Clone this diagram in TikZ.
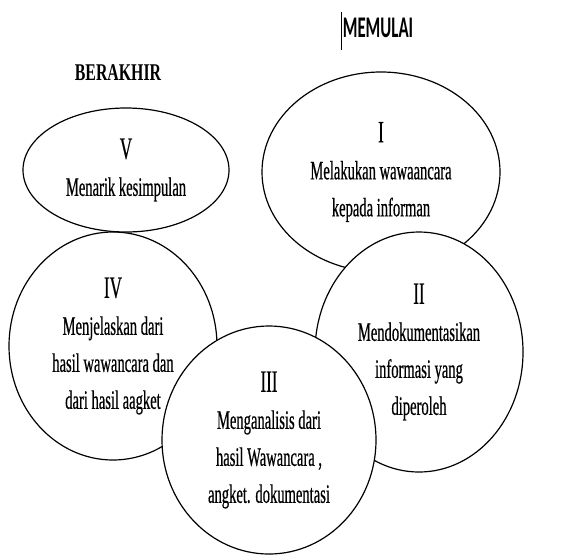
\documentclass[tikz,border=0pt]{standalone}
\usepackage{fontspec}
\setmainfont{Liberation Serif}
\newfontfamily\sempit{Liberation Serif}[FakeStretch=0.55,FakeBold=0.5]
\newfontfamily\judulfont{Liberation Serif}[FakeStretch=0.66]
\newfontfamily\memulaifont{Carlito}[FakeStretch=0.56]
\newcommand{\angka}[1]{{\fontsize{31}{37}\selectfont #1}}
\usetikzlibrary{shapes.geometric}
\begin{document}
\begin{tikzpicture}[x=1pt,y=-1pt,
    tahap/.style={ellipse, draw, fill=white, line width=1.2pt, inner sep=0pt,
        align=center, font={\sempit\fontsize{26.5}{37}\selectfont}}]
    \useasboundingbox (0,0) rectangle (577,555);
    % judul
    \node[font={\judulfont\bfseries\fontsize{24}{26}\selectfont}] (berakhir) at (118,73) {BERAKHIR};
    \node[font={\memulaifont\bfseries\fontsize{30}{34}\selectfont}] (memulai) at (378,28) {MEMULAI};
    \coordinate (kursor) at (341,12);
    \draw[line width=0.6pt] (kursor) -- ++(0,38);
    % tahap I sampai V
    \node[tahap, minimum width=238pt, minimum height=200pt] (satu) at (381,172)
        {\angka{I}\\Melakukan wawaancara\\kepada informan};
    \node[tahap, minimum width=208pt, minimum height=240pt] (dua) at (419,352)
        {\angka{II}\\Mendokumentasikan\\informasi yang\\diperoleh};
    \node[tahap, minimum width=208pt, minimum height=228pt] (empat) at (113,346)
        {\angka{IV}\\Menjelaskan dari\\hasil wawancara dan\\dari hasil aagket};
    \node[tahap, minimum width=214pt, minimum height=228pt] (tiga) at (269,440)
        {\angka{III}\\Menganalisis dari\\hasil Wawancara ,\\angket. dokumentasi};
    \node[tahap, minimum width=206pt, minimum height=124pt] (lima) at (126,170)
        {\angka{V}\\Menarik kesimpulan};
\end{tikzpicture}
\end{document}
